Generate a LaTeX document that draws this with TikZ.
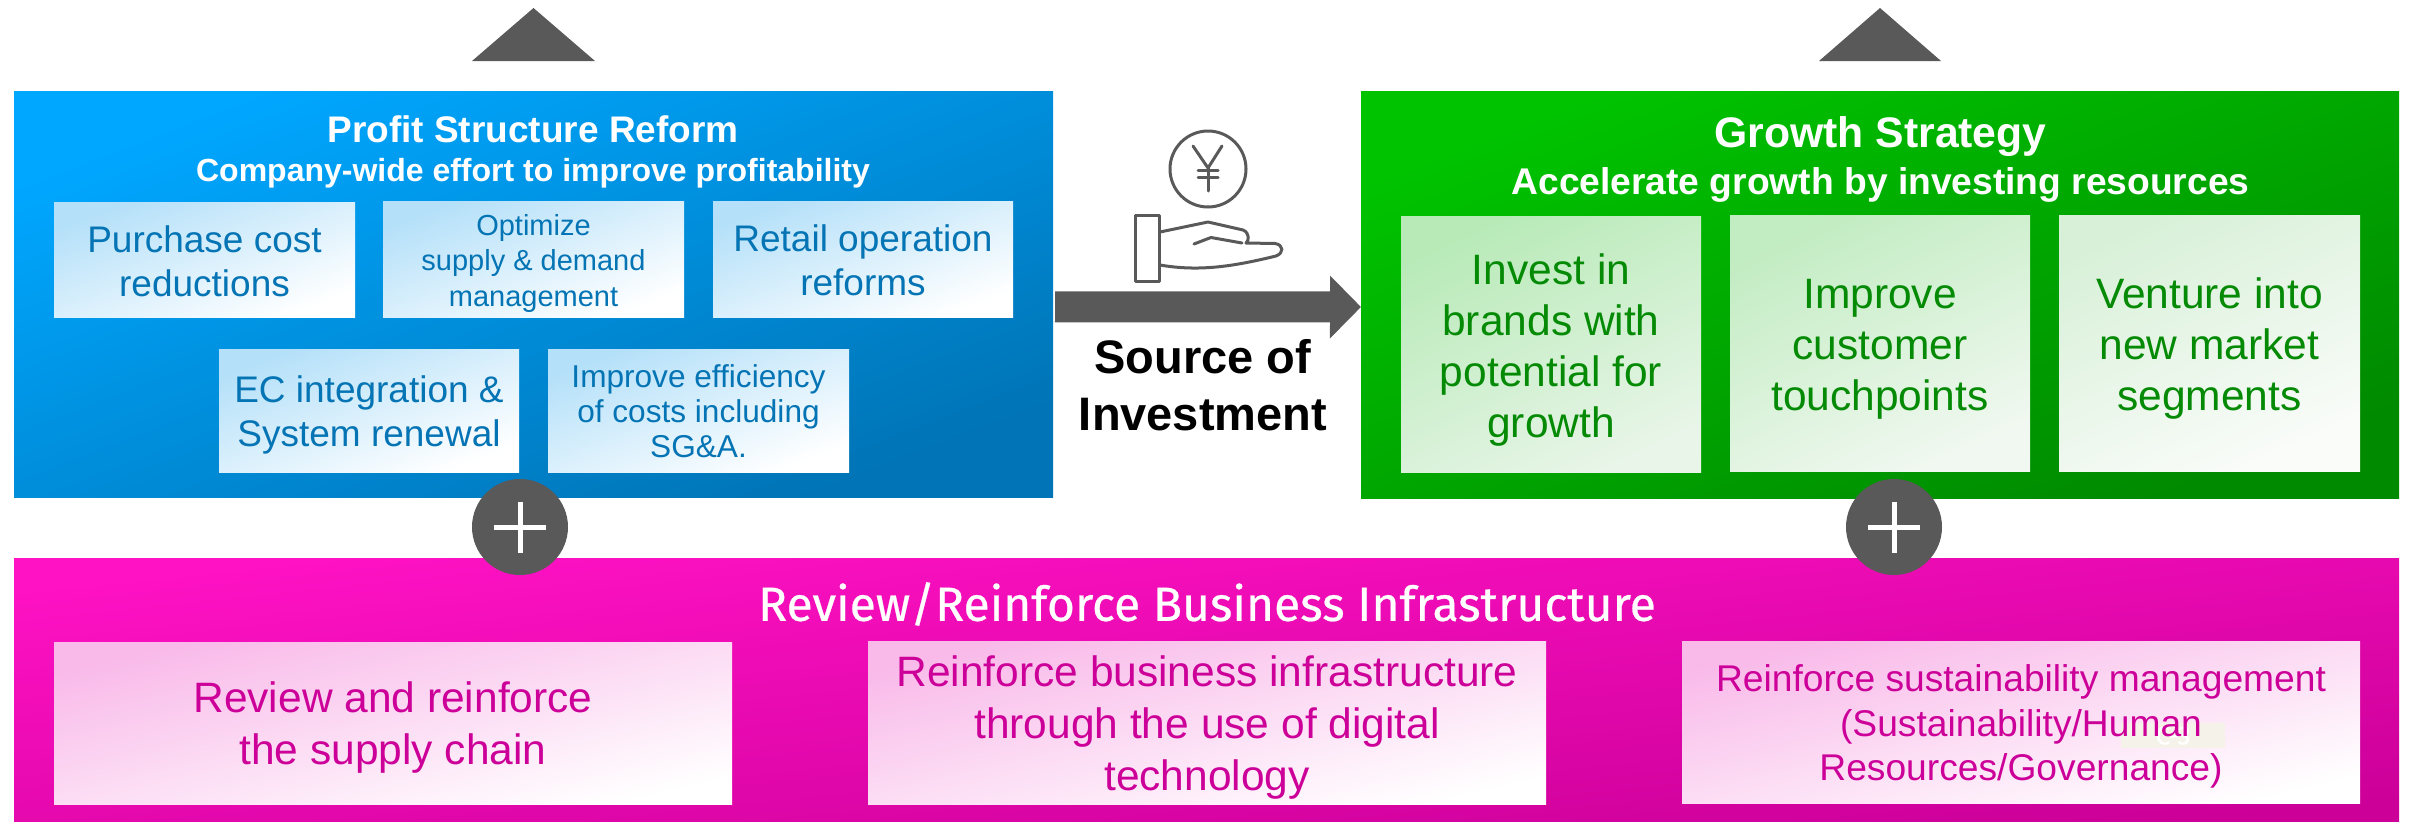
\documentclass[tikz,border=0pt]{standalone}
\usepackage{fontspec}
\setmainfont{Liberation Sans}
\newfontfamily\dinfont[FakeBold=0.5]{Fira Sans}
\usetikzlibrary{arrows.meta}
\newcommand{\fs}[2]{\fontsize{#1pt}{#2pt}\selectfont}
\definecolor{iconGray}{HTML}{595959}
\definecolor{blueTxt}{HTML}{0474B4}
\definecolor{greenTxt}{HTML}{058A05}
\definecolor{pinkTxt}{HTML}{CC0099}
\definecolor{bA}{HTML}{00A7FF}\definecolor{bB}{HTML}{0074B6}
\definecolor{gA}{HTML}{00C300}\definecolor{gB}{HTML}{008A00}
\definecolor{pA}{HTML}{FF12C4}\definecolor{pB}{HTML}{CC0099}
\definecolor{lbA}{HTML}{B4E0F9}\definecolor{lbB}{HTML}{FFFFFF}
\definecolor{lpA}{HTML}{F9B9E9}\definecolor{lpB}{HTML}{FFFFFF}
\definecolor{g1A}{HTML}{B8EAB8}\definecolor{g1B}{HTML}{E8F5E8}
\definecolor{g2A}{HTML}{C2ECC2}\definecolor{g2B}{HTML}{F1F8F1}
\definecolor{g3A}{HTML}{D8F0D8}\definecolor{g3B}{HTML}{FAFCFA}
\definecolor{ghost}{HTML}{F5F3E9}
\tikzset{
  panelBase/.style={rectangle,inner sep=0pt,outer sep=0pt,anchor=north west},
  gradBox/.style n args={2}{panelBase,top color=#1,bottom color=#2},
  size/.style n args={2}{minimum width=#1pt,minimum height=#2pt},
  plusDisc/.style={circle,fill=iconGray,minimum size=96pt,inner sep=0pt},
  roof/.style={fill=iconGray},
  iconLine/.style={draw=iconGray,line width=3pt,line cap=round,line join=round},
  blueItem/.style={gradBox={lbA}{lbB},shading angle=21},
  blueText/.style={align=center,text=blueTxt,font=\fs{37}{44}},
  greenText/.style={align=center,text=greenTxt,font=\fs{42.5}{51}},
  pinkItem/.style={gradBox={lpA}{lpB},shading angle=13},
  pinkText/.style={align=center,text=pinkTxt,font=\fs{42.5}{52}},
}
% name, box style, x, y, w, h, drop of the text, then text style and text
\newcommand{\itembox}[9]{%
  \node[#2,size={#5}{#6}] (#1) at (#3,#4) {};
  \node[#8] (#1t) at ([yshift=-#7pt]#1.center) {#9};
}
\begin{document}
\begin{tikzpicture}[x=1pt,y=-1pt]
\useasboundingbox (0,0) rectangle (2413,822);
% panels
\node[gradBox={bA}{bB},shading angle=21,size={1039}{406.5}] (blue) at (14,91) {};
\node[gradBox={gA}{gB},shading angle=21,size={1038}{407}] (green) at (1361,91) {};
\node[gradBox={pA}{pB},shading angle=6,size={2385}{264}] (pink) at (14,558) {};
% roofs
\fill[roof] (472,61) -- (533.5,8) -- (595,61) -- cycle;
\fill[roof] (1819,61) -- (1880,8) -- (1941,61) -- cycle;
% titles
\node[text=white,font=\fs{37}{37}\bfseries] (blueT) at (533,129) {Profit Structure Reform};
\node[text=white,font=\fs{32}{32}\bfseries] (blueS) at (533,173) {Company-wide effort to improve profitability};
\node[text=white,font=\fs{42.7}{43}\bfseries] (greenT) at (1880.5,137) {Growth Strategy};
\node[text=white,font=\fs{37.2}{37}\bfseries] (greenS) at (1880.5,185) {Accelerate growth by investing resources};
\node[text=white,font=\dinfont\fs{48}{48}] (pinkT) at (1207,604) {Review/Reinforce Business Infrastructure};
% blue items
\itembox{b1}{blueItem}{54}{202}{301}{115}{1.5}{blueText}{Purchase cost\\reductions}
\itembox{b2}{blueItem}{383}{201}{301}{116}{4}{blueText,font=\fs{29}{35.5}}{Optimize\\supply \& demand\\management}
\itembox{b3}{blueItem}{713}{201}{300}{116}{1.5}{blueText}{Retail operation\\reforms}
\itembox{b4}{blueItem}{219}{349}{300}{123}{4.5}{blueText}{EC integration \&\\System renewal}
\itembox{b5}{blueItem}{548}{349}{301}{123}{0.5}{blueText,font=\fs{31.6}{35}}{Improve efficiency\\of costs including\\SG\&A.}
% green items
\itembox{g1}{gradBox={g1A}{g1B},shading angle=25}{1401}{216}{300}{256}{6}{greenText}{Invest in\\brands with\\potential for\\growth}
\itembox{g2}{gradBox={g2A}{g2B},shading angle=25}{1730}{215}{300}{256}{6}{greenText}{Improve\\customer\\touchpoints}
\itembox{g3}{gradBox={g3A}{g3B},shading angle=25}{2059}{215}{301}{256}{6}{greenText}{Venture into\\new market\\segments}
% pink items
\itembox{p1}{pinkItem}{54}{642}{678}{162}{5}{pinkText}{Review and reinforce\\the supply chain}
\itembox{p2}{pinkItem}{868}{641}{678}{163}{5}{pinkText}{Reinforce business infrastructure\\through the use of digital\\technology}
\node[pinkItem,size={678}{162}] (p3) at (1682,641) {};
\node[panelBase,fill=ghost,size={104}{25}] (ghostbox) at (2121,723) {};
\node[text=white,font=\dinfont\fs{26}{26}] (ghosttxt) at ([xshift=0pt]ghostbox.center) {C-3};
\node[pinkText,font=\fs{37.2}{44.5}] (p3t) at ([yshift=-4.5pt]p3.center) {Reinforce sustainability management\\(Sustainability/Human\\Resources/Governance)};
% plus discs
\node[plusDisc] (plusL) at (520,527) {};
\node[plusDisc] (plusR) at (1894,527) {};
\foreach \n in {plusL,plusR}{
  \fill[white] ([xshift=-26pt,yshift=2.5pt]\n.center) rectangle ([xshift=26pt,yshift=-2.5pt]\n.center);
  \fill[white] ([xshift=-2.5pt,yshift=25.5pt]\n.center) rectangle ([xshift=2.5pt,yshift=-25.5pt]\n.center);
}
% source arrow
\draw[iconGray,line width=31pt,shorten <=2pt,-{Triangle[length=31pt,width=61pt]}]
  ([yshift=-12.5pt]blue.east) -- ([yshift=-12.5pt]green.west);
\node[align=center,font=\fs{47}{57}\bfseries] (src) at (1203,385) {Source of\\Investment};
% coin
\node[circle,draw=iconGray,line width=3pt,minimum size=76pt,inner sep=0pt] (coin) at (1208,169) {};
\draw[iconLine] (1193,146) -- (1208,168) -- (1222,146);
\draw[iconLine] (1208,168) -- (1208,191);
\draw[iconLine] (1198,170) -- (1218,170);
\draw[iconLine] (1198,177) -- (1218,177);
% hand
\draw[iconLine] (1135,215) rectangle (1159,281);
\draw[iconLine] (1160,232) -- (1208,222) -- (1243,230) .. controls (1250,233) and (1249,241) .. (1246,243) -- (1275,243.5)
  .. controls (1284,245) and (1284,253) .. (1276,256) .. controls (1235,266) and (1200,272) .. (1160,265);
\draw[iconLine] (1194,244) -- (1211,237.5) -- (1242,243);
\end{tikzpicture}
\end{document}
